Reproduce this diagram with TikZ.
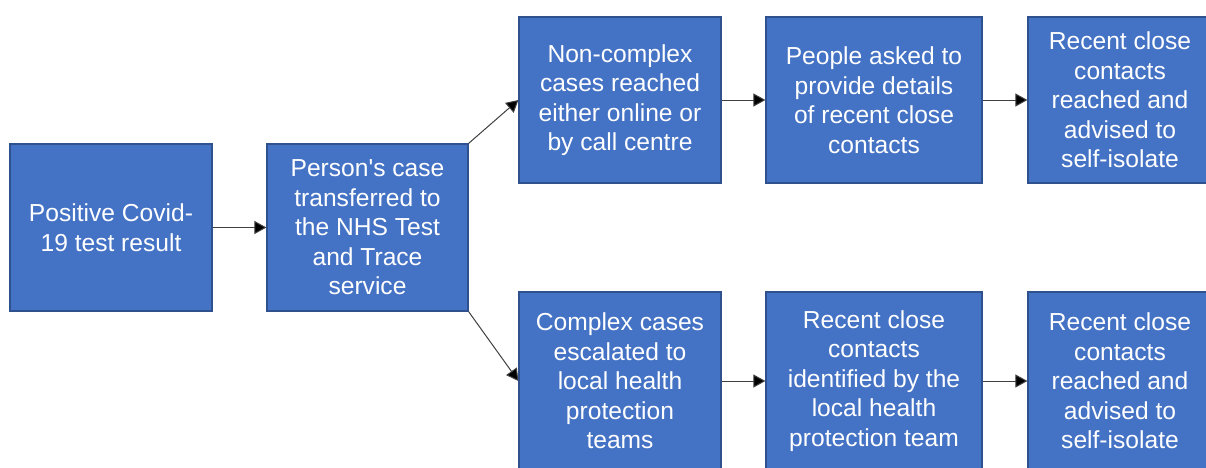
\documentclass[tikz,border=0pt]{standalone}
\usepackage{fontspec}
\setmainfont{Liberation Sans}
\usetikzlibrary{arrows.meta}
\definecolor{boxblue}{HTML}{4472C4}
\definecolor{boxline}{HTML}{2F528F}

\begin{document}
\begin{tikzpicture}[x=0.5pt, y=-0.5pt,
  stage/.style={rectangle, fill=boxblue, draw=boxline, line width=0.6pt,
    text=white, align=center, inner sep=0pt,
    font=\fontsize{12.3}{14.75}\selectfont},
  link/.style={draw=black!75, line width=0.5pt, -{Triangle[length=6pt,width=6.5pt,fill=black]}}]
  \useasboundingbox (0,0) rectangle (1206,467);
  \node [stage, minimum width=101pt, minimum height=83.5pt] (result) at (111,227.5) {Positive Covid-\\19 test result};
  \node [stage, minimum width=100.5pt, minimum height=83.5pt] (transfer) at (367.5,227.5) {Person\textquotesingle s case\\transferred to\\the NHS Test\\and Trace\\service};
  \node [stage, minimum width=101pt, minimum height=83pt] (simple) at (620,100) {Non-complex\\cases reached\\either online or\\by call centre};
  \node [stage, minimum width=108pt, minimum height=83pt] (details) at (874,100) {People asked to\\provide details\\of recent close\\contacts};
  \node [stage, minimum width=92pt, minimum height=83pt] (advisetop) at (1120,100) {Recent close\\contacts\\reached and\\advised to\\self-isolate};
  \node [stage, minimum width=101pt, minimum height=89pt] (complex) at (620,381) {Complex cases\\escalated to\\local health\\protection\\teams};
  \node [stage, minimum width=108pt, minimum height=89pt] (local) at (874,381) {Recent close\\contacts\\identified by the\\local health\\protection team};
  \node [stage, minimum width=92pt, minimum height=89pt] (advisebot) at (1120,381) {Recent close\\contacts\\reached and\\advised to\\self-isolate};
  \draw [link] (result) -- (transfer);
  \draw [link] (transfer.north east) -- (simple.west);
  \draw [link] (transfer.south east) -- (complex.west);
  \draw [link] (simple) -- (details);
  \draw [link] (details) -- (advisetop);
  \draw [link] (complex) -- (local);
  \draw [link] (local) -- (advisebot);
\end{tikzpicture}
\end{document}
